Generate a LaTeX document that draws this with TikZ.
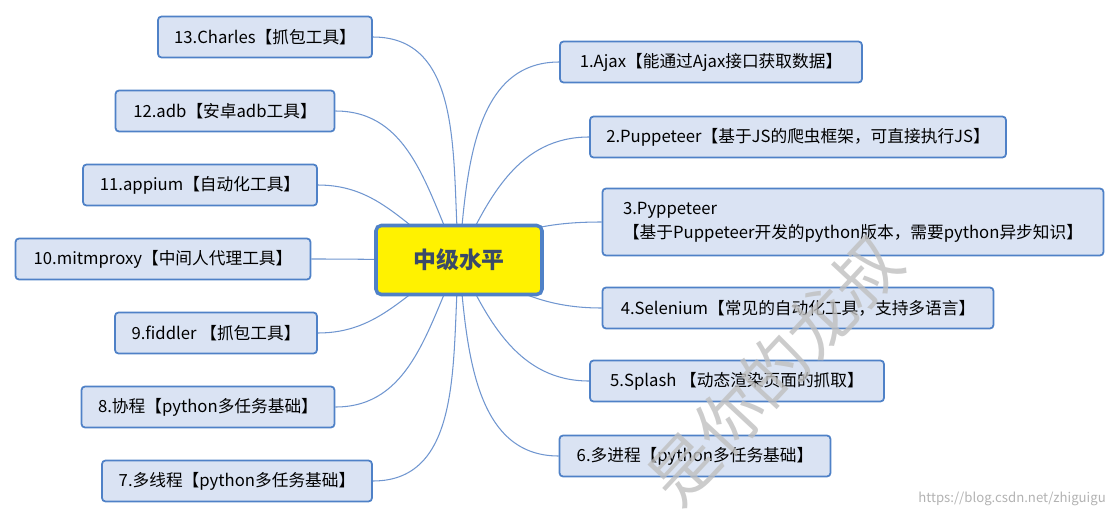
\documentclass[tikz,border=0pt]{standalone}
\usepackage{fontspec}
\setmainfont{Noto Sans CJK SC}
\usetikzlibrary{backgrounds}
\definecolor{boxfill}{HTML}{DAE3F3}
\definecolor{boxline}{HTML}{4F81C7}
\definecolor{linkline}{HTML}{7096D0}
\definecolor{titletext}{HTML}{3A4A68}
\tikzset{
  topic/.style={draw=boxline,fill=boxfill,line width=1pt,rounded corners=2pt,
    align=left,font=\fontsize{9.5}{12}\selectfont,inner sep=0pt},
  link/.style={draw=linkline,line width=0.6pt}
}
\begin{document}
\begin{tikzpicture}[x=0.02cm,y=-0.02cm]
				\useasboundingbox (0,0) rectangle (1120,518);
				% centre
				\node[draw=boxline,fill=yellow,line width=2pt,rounded corners=3pt,
				  minimum width=166*0.02cm,minimum height=69*0.02cm,
				  font=\bfseries\fontsize{13}{15}\selectfont,text=titletext] (C) at (459,260) {中级水平};
				
				% left side
				\foreach \n/\x/\y/\w/\h/\t in
				{L13/265/37/214/41/{13.Charles【抓包工具】},
				 L12/225/111/219/41/{12.adb【安卓adb工具】},
				 L11/200/185/234/41/{11.appium【自动化工具】},
				 L10/163/259/295/41/{10.mitmproxy【中间人代理工具】},
				 L9/216/333/202/41/{9.fiddler 【抓包工具】},
				 L8/208/407/253/41/{8.协程【python多任务基础】},
				 L7/237/481/270/41/{7.多线程【python多任务基础】}}{
					\node[topic,minimum width=\w*0.02cm,minimum height=\h*0.02cm,align=center] (\n) at (\x,\y) {\t};
				}
				
				% right side
				\foreach \n/\x/\y/\w/\h/\t in
				{R1/711/62/302/41/{1.Ajax【能通过Ajax接口获取数据】},
				 R2/798/137/416/41/{2.Puppeteer【基于JS的爬虫框架，可直接执行JS】},
				 R4/798/308/391/41/{4.Selenium【常见的自动化工具，支持多语言】},
				 R5/737/381/294/41/{5.Splash 【动态渲染页面的抓取】},
				 R6/695/456/271/41/{6.多进程【python多任务基础】}}{
					\node[topic,minimum width=\w*0.02cm,minimum height=\h*0.02cm,align=center] (\n) at (\x,\y) {\t};
				}
				\node[topic,minimum width=501*0.02cm,minimum height=67*0.02cm,inner xsep=4pt,
				  font=\fontsize{9.5}{13.5}\selectfont] (R3) at (853,222)
				  {3.Pyppeteer\\【基于Puppeteer开发的python版本，需要python异步知识】};
				
				% connectors
				\begin{scope}[on background layer]
				\foreach \n/\a in {L13/95, L12/115, L11/150, L10/180, L9/210, L8/245, L7/265}{
					\draw[link] (C.center) to[out=\a,in=0] (\n.east);
				}
				\foreach \n/\a in {R1/85, R2/65, R3/30, R4/-30, R5/-65, R6/-85}{
					\draw[link] (C.center) to[out=\a,in=180] (\n.west);
				}
				\end{scope}
				
				% watermark
				\node[rotate=47,text=black!25,font=\fontsize{38}{40}\selectfont,opacity=0.8] (W) at (775,370) {是你的龙叔};
				\node[text=black!30,font=\fontsize{7.5}{9}\selectfont,anchor=south east] (U) at (1112,512) {https://blog.csdn.net/zhiguigu};
			\end{tikzpicture}
\end{document}
